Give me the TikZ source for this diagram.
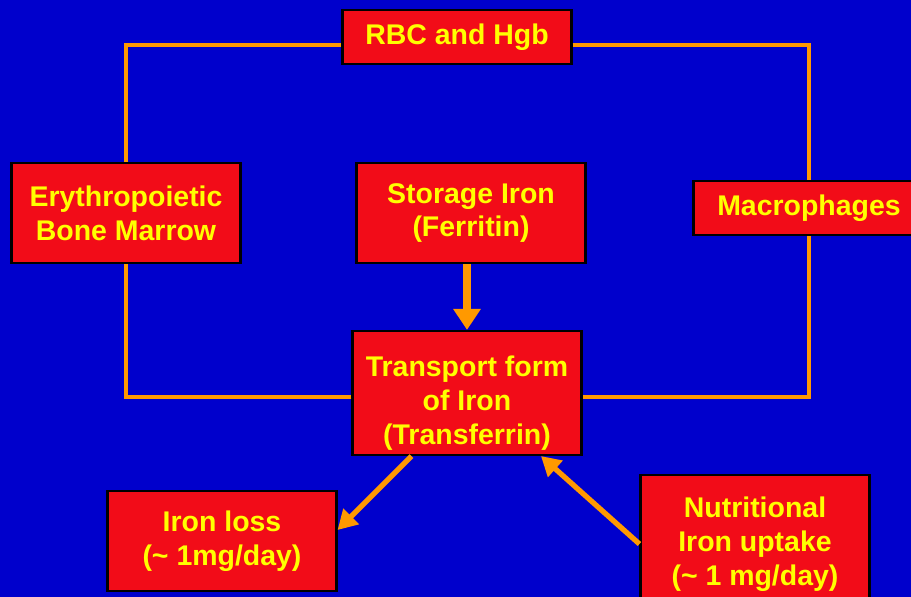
\documentclass[tikz,border=0pt]{standalone}
\usepackage{fontspec}
\setmainfont{Liberation Sans}
\usetikzlibrary{arrows.meta,calc,positioning}
\definecolor{slideblue}{HTML}{0000CC}
\definecolor{boxred}{HTML}{F20C18}
\definecolor{textyellow}{HTML}{FFFF00}
\definecolor{lineorange}{HTML}{FF9900}

\begin{document}
\begin{tikzpicture}[x=0.02cm,y=-0.02cm,>=Triangle,
  box/.style={draw=black,line width=1.2pt,fill=boxred,text=textyellow,
    font=\fontsize{16.2}{19.3}\selectfont\bfseries,align=center,
    minimum width=229*0.02cm,minimum height=100*0.02cm,inner sep=0pt},
  loop/.style={lineorange,line width=2pt},
  feed/.style={lineorange,line width=3pt,-{Triangle[length=11pt,width=12pt]}}]
\fill[slideblue] (0,0) rectangle (911,597);
\clip (0,0) rectangle (911,597);
% boxes
\node[box,minimum height=54*0.02cm] (rbc) at (457,37) {RBC and Hgb};
\node[box] (ery) at (126,213) {Erythropoietic\\Bone Marrow};
\node[box] (store) at (471,213) {Storage Iron\\(Ferritin)};
\node[box,minimum height=54*0.02cm,minimum width=231*0.02cm] (macro) at (809,208) {Macrophages};
\node[box,minimum height=124*0.02cm] (trans) at (467,393) {};
\node[box,draw=none,fill=none,minimum height=0pt] (transtext) at (467,403) {Transport form\\of Iron\\(Transferrin)};
\node[box] (loss) at (222,541) {Iron loss\\(\textasciitilde{} 1mg/day)};
\node[box,minimum height=138*0.02cm] (nutr) at (755,544) {Nutritional\\Iron uptake\\(\textasciitilde{} 1 mg/day)};
% red cell cycle
\draw[loop] (ery.north) |- ([yshift=-0.16cm]rbc.west);
\draw[loop] ([yshift=-0.16cm]rbc.east) -| (macro.north);
\draw[loop] (macro.south) |- ([yshift=-0.08cm]trans.east);
\draw[loop] ([yshift=-0.08cm]trans.west) -| (ery.south);
% iron in and out
\draw[lineorange,line width=4pt,-{Triangle[length=12pt,width=15pt]}] (trans.north |- store.south) -- (trans.north);
\draw[feed] ($(trans.south west)!0.26!(trans.south east)$) -- ([yshift=0.22cm]loss.east);
\draw[feed] (nutr.west) -- ($(trans.south west)!0.82!(trans.south east)$);
\end{tikzpicture}
\end{document}
